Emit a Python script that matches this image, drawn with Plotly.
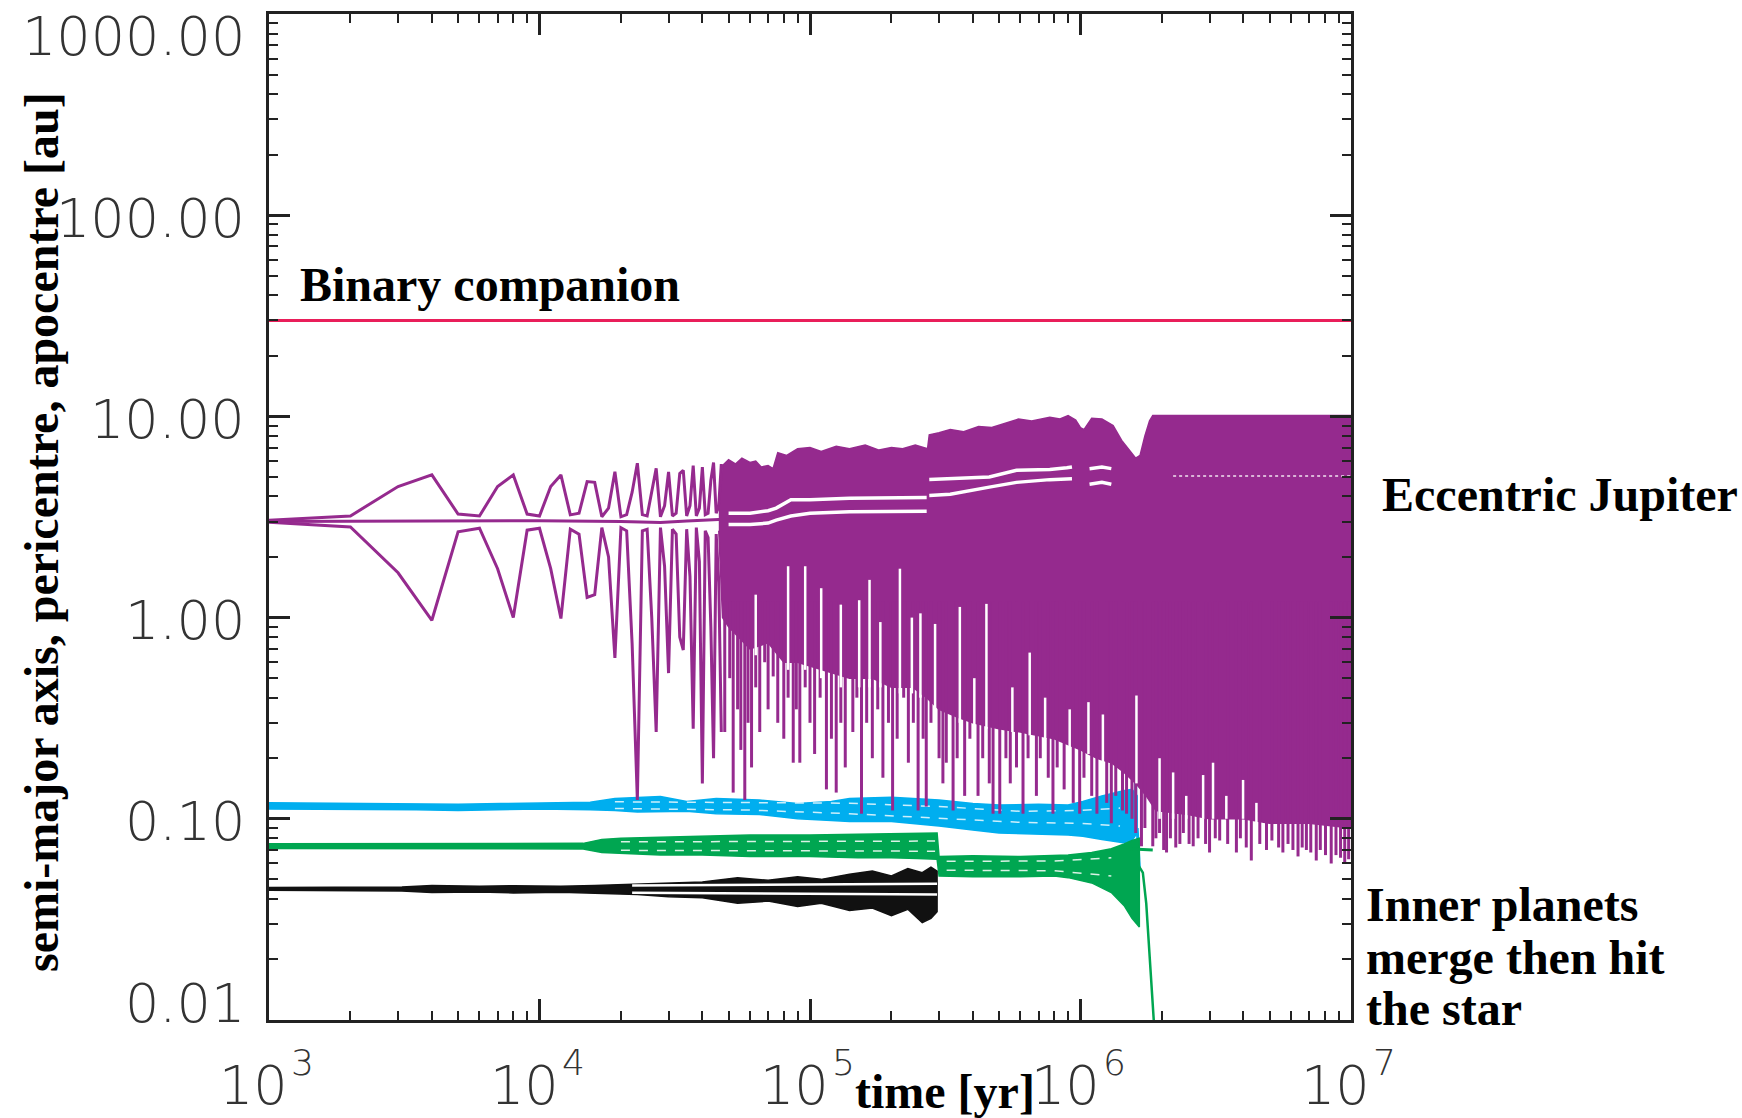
import math
import plotly.graph_objects as go

# ---------------- axis ticks ----------------
x_tick_vals = [1e3, 1e4, 1e5, 1e6, 1e7]
x_tick_base = ["10", "10", "10", "10", "10"]
x_tick_exp = ["3", "4", "5", "6", "7"]
y_tick_vals = [0.01, 0.1, 1.0, 10.0, 100.0, 1000.0]
y_tick_text = ["0.01", "0.10", "1.00", "10.00", "100.00", "1000.00"]

# ---------------- binary companion ----------------
comp_t = [1e3, 1e7]
comp_a = [30.0, 30.0]

# ---------------- eccentric Jupiter: early samples (every kyr) ----------------
jup_t_kyr = [1, 2, 3, 4, 5, 6, 7, 8, 9, 10, 11, 12, 13, 14, 15, 16, 17, 18, 19, 20,
             21, 22, 23, 24, 25, 26, 27, 28, 29, 30, 31, 32, 33, 34, 35, 36, 37, 38, 39, 40,
             41, 42, 43, 44, 45, 46, 47]
jup_apo = [3.05, 3.2, 4.48, 5.12, 3.27, 3.2, 4.48, 5.12, 3.27, 3.2, 4.48, 5.12, 3.24, 3.3, 4.74, 4.7,
           3.17, 3.5, 5.31, 3.17, 3.25, 4.2, 5.85, 3.25, 3.2, 4.3, 5.52, 3.17, 3.6, 5.3,
           3.2, 3.3, 5.2, 5.4, 3.2, 3.6, 5.7, 3.2, 3.5, 5.6, 3.25, 3.3, 4.8, 5.9, 3.3, 3.6, 5.8]
jup_peri = [2.98, 2.82, 1.67, 0.97, 2.67, 2.78, 1.75, 1.0, 2.72, 2.78, 1.75, 0.99, 2.75, 2.6, 1.26, 1.3,
            2.8, 2.0, 0.63, 2.8, 2.7, 0.74, 0.124, 2.7, 2.75, 1.0, 0.27, 2.8, 1.8, 0.53,
            2.75, 2.6, 0.8, 0.69, 2.75, 1.6, 0.28, 2.8, 1.9, 0.15, 2.7, 2.5, 0.9, 0.2, 2.6, 1.5, 0.27]
jup_a_t = [1e3, 1e4, 2e4, 2.8e4, 3.5e4, 4.2e4, 4.8e4]
jup_a = [3.0, 3.03, 3.0, 2.97, 3.02, 3.06, 3.08]

# ---------------- eccentric Jupiter: dense band ----------------
jup_top_t = [4.6e4, 4.75e4, 5.0e4, 5.3e4, 5.6e4, 6.0e4, 6.3e4, 6.6e4, 7.0e4, 7.3e4, 7.6e4, 8.2e4,
             9.0e4, 1.0e5, 1.1e5, 1.25e5, 1.4e5, 1.6e5, 1.8e5, 2.0e5, 2.2e5, 2.45e5, 2.72e5, 2.76e5,
             3.0e5, 3.3e5, 3.7e5, 4.2e5, 4.7e5, 5.2e5, 5.9e5, 6.6e5, 7.7e5, 8.4e5, 9.0e5, 9.6e5,
             1.0e6, 1.03e6, 1.1e6, 1.2e6, 1.32e6, 1.42e6, 1.52e6, 1.6e6, 1.66e6, 1.73e6, 1.8e6,
             1.85e6, 1e7]
jup_top = [3.4, 5.7, 6.1, 5.8, 6.2, 5.9, 6.0, 5.6, 5.7, 5.5, 6.6, 6.4,
           6.9, 7.0, 6.7, 7.1, 6.9, 7.2, 6.8, 7.0, 6.9, 7.2, 6.9, 8.1,
           8.3, 8.6, 8.4, 8.9, 8.8, 9.2, 9.7, 9.5, 9.9, 9.7, 10.1, 9.6,
           8.8, 8.6, 9.8, 9.7, 9.0, 7.6, 6.8, 6.2, 6.4, 8.0, 9.5,
           10.1, 10.1]
# lower edge of the solid part of the band
jup_base_t = [4.6e4, 4.75e4, 5.0e4, 6.0e4, 7.0e4, 8.0e4, 9.0e4, 1.1e5, 1.4e5, 1.7e5, 2.0e5, 2.4e5,
              2.7e5, 3.0e5, 3.5e5, 4.0e5, 5.0e5, 6.0e5, 8.0e5, 1.0e6, 1.15e6, 1.3e6, 1.45e6, 1.6e6,
              1.75e6, 1.9e6, 2.5e6, 3.0e6, 4.0e6, 5.0e6, 7.0e6, 1e7]
jup_base = [2.7, 1.0, 0.9, 0.7, 0.75, 0.6, 0.6, 0.55, 0.5, 0.5, 0.45, 0.45,
            0.4, 0.35, 0.32, 0.3, 0.28, 0.27, 0.25, 0.22, 0.2, 0.19, 0.17, 0.15,
            0.13, 0.11, 0.105, 0.1, 0.1, 0.095, 0.095, 0.09]
# deep pericentre spikes below the solid band
jup_spike_t = [4.84e4, 5.05e4, 5.2e4, 5.4e4, 5.55e4, 5.74e4, 5.9e4, 6.08e4, 6.3e4, 6.52e4, 6.8e4, 7.0e4,
               7.31e4, 7.6e4, 8.0e4, 8.3e4, 8.67e4, 8.9e4, 9.17e4, 9.6e4, 1.0e5, 1.04e5, 1.09e5,
               1.15e5, 1.2e5, 1.25e5, 1.3e5, 1.35e5, 1.44e5, 1.49e5, 1.55e5, 1.62e5, 1.7e5, 1.78e5,
               1.86e5, 1.95e5, 2.02e5, 2.1e5, 2.22e5, 2.31e5, 2.41e5, 2.51e5, 2.62e5, 2.69e5, 2.8e5,
               3.0e5, 3.1e5, 3.19e5, 3.38e5, 3.5e5, 3.73e5, 3.9e5, 4.18e5, 4.35e5, 4.6e5, 4.75e5,
               5.03e5, 5.3e5, 5.5e5, 5.8e5, 6.13e5, 6.4e5, 6.87e5, 7.1e5, 7.6e5, 7.91e5, 8.2e5,
               8.7e5, 9.4e5, 9.93e5, 1.03e6, 1.1e6, 1.15e6, 1.25e6, 1.30e6, 1.35e6, 1.43e6, 1.48e6,
               1.55e6, 1.6e6, 1.68e6, 1.73e6, 1.85e6, 1.9e6, 1.96e6, 2.03e6, 2.08e6, 2.15e6, 2.25e6,
               2.33e6, 2.4e6, 2.52e6, 2.61e6, 2.72e6, 2.9e6, 3.0e6, 3.15e6, 3.27e6, 3.5e6, 3.77e6,
               3.9e6, 4.1e6, 4.28e6, 4.6e6, 4.87e6, 5.1e6, 5.4e6, 5.6e6, 5.85e6, 6.1e6, 6.37e6,
               6.6e6, 6.84e6, 7.1e6, 7.44e6, 7.7e6, 8.05e6, 8.45e6, 8.8e6, 9.15e6, 9.48e6, 9.8e6]
jup_spike = [0.27, 0.5, 0.135, 0.35, 0.22, 0.124, 0.3, 0.18, 0.45, 0.27, 0.6, 0.35,
             0.51, 0.3, 0.25, 0.4, 0.19, 0.35, 0.19, 0.45, 0.3, 0.21, 0.4,
             0.14, 0.25, 0.135, 0.3, 0.18, 0.27, 0.4, 0.106, 0.3, 0.2, 0.35,
             0.16, 0.3, 0.11, 0.25, 0.4, 0.19, 0.3, 0.11, 0.25, 0.115, 0.3,
             0.2, 0.15, 0.19, 0.11, 0.2, 0.13, 0.25, 0.13, 0.2, 0.15, 0.106,
             0.106, 0.2, 0.15, 0.18, 0.106, 0.2, 0.13, 0.2, 0.16, 0.106, 0.18,
             0.14, 0.12, 0.106, 0.16, 0.13, 0.106, 0.12, 0.095, 0.13, 0.11, 0.106,
             0.1, 0.085, 0.073, 0.09, 0.073, 0.08, 0.085, 0.07, 0.068, 0.08, 0.072,
             0.075, 0.085, 0.075, 0.073, 0.08, 0.075, 0.068, 0.08, 0.078, 0.075, 0.068,
             0.08, 0.072, 0.062, 0.075, 0.07, 0.078, 0.072, 0.068, 0.075, 0.07, 0.065,
             0.072, 0.07, 0.068, 0.062, 0.07, 0.066, 0.06, 0.066, 0.064, 0.06, 0.063]
jup_spike_top = 1.2
# narrow white notches reaching up into the band
jup_notch_t = [6.3e4, 8.3e4, 9.6e4, 1.1e5, 1.3e5, 1.52e5, 1.66e5, 1.82e5, 2.15e5, 2.38e5, 2.56e5,
               2.9e5, 3.58e5, 4.05e5, 4.49e5, 5.6e5, 6.49e5, 7.4e5, 9.12e5, 1.07e6, 1.21e6, 1.61e6,
               1.96e6, 2.2e6, 2.46e6, 2.84e6, 3.09e6, 3.46e6, 3.99e6, 4.47e6]
jup_notch_lo = [0.65, 0.55, 0.55, 0.5, 0.45, 0.45, 0.45, 0.45, 0.42, 0.42, 0.4,
                0.33, 0.3, 0.29, 0.28, 0.27, 0.26, 0.25, 0.22, 0.21, 0.19, 0.15,
                0.1, 0.1, 0.1, 0.1, 0.1, 0.1, 0.1, 0.095]
jup_notch_hi = [1.3, 1.8, 1.8, 1.4, 1.16, 1.22, 1.54, 0.95, 1.75, 1.0, 1.05,
                0.93, 1.13, 0.5, 1.17, 0.45, 0.67, 0.4, 0.35, 0.38, 0.33, 0.41,
                0.2, 0.17, 0.13, 0.165, 0.19, 0.13, 0.156, 0.12]
# white gaps either side of the semi-major axis inside the band
jup_gap_t = [5.0e4, 6.0e4, 7.0e4, 7.5e4, 8.5e4, 1.0e5, 1.4e5, 2.0e5, 2.7e5, None,
             2.76e5, 3.3e5, 4.6e5, 5.8e5, 7.7e5, 8.9e5, 9.3e5, None, 1.08e6, 1.2e6, 1.3e6]
jup_gap_hi = [3.3, 3.3, 3.4, 3.5, 3.85, 3.85, 3.92, 3.95, 3.95, None,
              4.86, 4.9, 5.0, 5.4, 5.45, 5.55, 5.6, None, 5.5, 5.6, 5.5]
jup_gap_lo = [2.9, 2.9, 2.95, 3.05, 3.2, 3.3, 3.36, 3.38, 3.38, None,
              4.05, 4.1, 4.45, 4.7, 4.85, 4.9, 4.9, None, 4.6, 4.7, 4.6]
jup_late_a_t = [2.2e6, 1e7]
jup_late_a = [5.05, 5.05]

# ---------------- inner planets ----------------
cyan_t = [1e3, 3.5e3, 5e3, 7.2e3, 1.0e4, 1.54e4, 1.9e4, 2.3e4, 2.8e4, 3.5e4, 4.5e4, 6.5e4, 9e4, 1.2e5,
          1.4e5, 2.0e5, 3.0e5, 4.0e5, 5.0e5, 7.0e5, 9.0e5, 1.02e6, 1.2e6, 1.44e6, 1.55e6, 1.62e6]
cyan_hi = [0.120, 0.119, 0.118, 0.119, 0.120, 0.121, 0.126, 0.127, 0.129, 0.122, 0.126, 0.124, 0.119,
           0.122, 0.126, 0.128, 0.124, 0.119, 0.117, 0.118, 0.117, 0.122, 0.13, 0.138, 0.14, 0.13]
cyan_lo = [0.112, 0.111, 0.110, 0.111, 0.112, 0.111, 0.110, 0.108, 0.1085, 0.109, 0.106, 0.105, 0.100,
           0.098, 0.097, 0.097, 0.092, 0.088, 0.085, 0.084, 0.083, 0.082, 0.079, 0.076, 0.078, 0.085]
cyan_gap_t = [1.9e4, 6e4, 1.4e5, 3e5, 6e5, 1.0e6, 1.4e6]
cyan_gap_hi = [0.1215, 0.1205, 0.1195, 0.115, 0.109, 0.11, 0.113]
cyan_gap_lo = [0.1125, 0.1105, 0.106, 0.101, 0.096, 0.095, 0.092]
cyan_end_t = [1.6e6, 1.6e6, None, 1.62e6, 1.65e6]
cyan_end = [0.085, 0.175, None, 0.09, 0.057]

green_t = [1e3, 1.45e4, 1.7e4, 2.0e4, 2.8e4, 4e4, 6e4, 1e5, 1.5e5, 2.0e5, 2.5e5, 2.95e5, 3.0e5, 4e5,
           6e5, 8e5, 9e5, 1.1e6, 1.3e6, 1.45e6, 1.55e6, 1.65e6]
green_hi = [0.0752, 0.0755, 0.079, 0.080, 0.081, 0.082, 0.083, 0.083, 0.084, 0.084, 0.085, 0.085,
            0.065, 0.0655, 0.065, 0.0655, 0.066, 0.068, 0.071, 0.075, 0.078, 0.080]
green_lo = [0.0712, 0.0708, 0.068, 0.067, 0.066, 0.066, 0.065, 0.065, 0.064, 0.064, 0.0635, 0.063,
            0.052, 0.0515, 0.0515, 0.052, 0.051, 0.048, 0.043, 0.037, 0.032, 0.029]
green_gap_t = [2.0e4, 1e5, 2.9e5, None, 3.2e5, 8e5, 1.3e6]
green_gap_hi = [0.0768, 0.0772, 0.0775, None, 0.0615, 0.0617, 0.064]
green_gap_lo = [0.0697, 0.0693, 0.069, None, 0.0555, 0.0552, 0.052]
green_tail_t = [1.5e6, 1.85e6]
green_tail = [0.071, 0.070]
green_fall_t = [1.62e6, 1.7e6, 1.75e6, 1.8e6, 1.84e6, 1.87e6]
green_fall = [0.06, 0.054, 0.038, 0.021, 0.012, 0.0095]

black_t = [1e3, 3.1e3, 4e3, 6e3, 8e3, 1.2e4, 1.6e4, 2.3e4, 3e4, 4e4, 5.4e4, 7e4, 9e4, 1.1e5, 1.4e5,
           1.7e5, 2.0e5, 2.3e5, 2.6e5, 2.8e5, 2.95e5]
black_hi = [0.0455, 0.0458, 0.0466, 0.0462, 0.0465, 0.0462, 0.0466, 0.0475, 0.048, 0.0485, 0.051,
            0.0495, 0.0515, 0.050, 0.053, 0.055, 0.052, 0.0566, 0.054, 0.0575, 0.055]
black_lo = [0.0441, 0.0438, 0.043, 0.0433, 0.0428, 0.0432, 0.0428, 0.042, 0.041, 0.0405, 0.038,
            0.039, 0.0367, 0.038, 0.035, 0.036, 0.033, 0.0355, 0.0305, 0.032, 0.0345]
black_gap_t = [2.2e4, 5e4, 1e5, 2e5, 2.95e5]
black_gap_hi = [0.0466, 0.0469, 0.0472, 0.0474, 0.0475]
black_gap_lo = [0.0429, 0.0426, 0.0423, 0.0421, 0.0421]

# ---------------- styles ----------------
PURPLE = "#952a8e"
RED = "#e91e5a"
CYAN = "#00aeef"
GREEN = "#00a651"
BLACK = "#111111"
AXIS = "#222222"
TICKFONT = dict(family="DejaVu Sans", size=54, color="#333333", weight=200)
SUPFONT = dict(family="DejaVu Sans", size=36, color="#333333", weight=200)
LABELFONT = dict(family="Liberation Serif", size=48, color="black", weight="bold")

fig = go.Figure()


def band(t, hi, lo, color):
    fig.add_trace(go.Scatter(x=list(t) + list(t)[::-1], y=list(hi) + list(lo)[::-1],
                             fill="toself", fillcolor=color, mode="lines",
                             line=dict(color=color, width=1.5), hoverinfo="skip"))


def line(t, v, color, width, dash="solid"):
    fig.add_trace(go.Scatter(x=t, y=v, mode="lines", line=dict(color=color, width=width, dash=dash),
                             hoverinfo="skip", connectgaps=False))


def verticals(t, lo, hi, color, width):
    xs, ys = [], []
    for i, ti in enumerate(t):
        top = hi[i] if isinstance(hi, list) else hi
        xs += [ti, ti, None]
        ys += [lo[i], top, None]
    line(xs, ys, color, width)


# binary companion
line(comp_t, comp_a, RED, 3)

# inner planets
band(cyan_t, cyan_hi, cyan_lo, CYAN)
line(cyan_gap_t, cyan_gap_hi, "rgba(255,255,255,0.8)", 1.5, "dash")
line(cyan_gap_t, cyan_gap_lo, "rgba(255,255,255,0.8)", 1.5, "dash")
line(cyan_end_t, cyan_end, CYAN, 3)
band(green_t, green_hi, green_lo, GREEN)
line(green_gap_t, green_gap_hi, "rgba(255,255,255,0.85)", 1.5, "dash")
line(green_gap_t, green_gap_lo, "rgba(255,255,255,0.85)", 1.5, "dash")
line(green_tail_t, green_tail, GREEN, 3)
line(green_fall_t, green_fall, GREEN, 2.5)
band(black_t, black_hi, black_lo, BLACK)
line(black_gap_t, black_gap_hi, "white", 2.5)
line(black_gap_t, black_gap_lo, "white", 2.5)

# Jupiter
jt = [k * 1000 for k in jup_t_kyr]
line(jt, jup_apo, PURPLE, 3)
line(jt, jup_peri, PURPLE, 3)
line(jup_a_t, jup_a, PURPLE, 3)
fig.add_trace(go.Scatter(x=jup_top_t + jup_base_t[::-1], y=jup_top + jup_base[::-1],
                         fill="toself", fillcolor=PURPLE, mode="lines",
                         line=dict(color=PURPLE, width=1.5), hoverinfo="skip"))
verticals(jup_spike_t, jup_spike, jup_spike_top, PURPLE, 3)
verticals(jup_notch_t, jup_notch_lo, jup_notch_hi, "white", 2.5)
line(jup_gap_t, jup_gap_hi, "white", 3.5)
line(jup_gap_t, jup_gap_lo, "white", 3.5)
line(jup_late_a_t, jup_late_a, "rgba(255,255,255,0.65)", 2, "dot")

# ---------------- axes ----------------
x_minor = [m * 10 ** e for e in range(3, 7) for m in range(2, 10)]
y_minor = [m * 10.0 ** e for e in range(-2, 3) for m in range(2, 10)]

fig.update_xaxes(type="log", range=[3, 7], tickvals=x_tick_vals, showticklabels=False,
                 ticks="inside", ticklen=21, tickwidth=2.5, tickcolor=AXIS,
                 showline=True, linewidth=3, linecolor=AXIS, mirror="ticks",
                 showgrid=False, zeroline=False, automargin=False,
                 minor=dict(tickvals=x_minor, ticks="inside", ticklen=9, tickwidth=2,
                            tickcolor=AXIS, showgrid=False))
fig.update_yaxes(type="log", range=[-2, 3], tickvals=y_tick_vals, showticklabels=False,
                 ticks="inside", ticklen=21, tickwidth=2.5, tickcolor=AXIS,
                 showline=True, linewidth=3, linecolor=AXIS, mirror="ticks",
                 showgrid=False, zeroline=False, automargin=False,
                 minor=dict(tickvals=y_minor, ticks="inside", ticklen=9, tickwidth=2,
                            tickcolor=AXIS, showgrid=False))

annotations = []
# y tick labels
for v, txt in zip(y_tick_vals, y_tick_text):
    if v == max(y_tick_vals):
        ya, ys = "top", 11
    elif v == min(y_tick_vals):
        ya, ys = "bottom", -17
    else:
        ya, ys = "middle", -3
    annotations.append(dict(x=-0.0203, xref="paper", xanchor="right", y=math.log10(v), yref="y",
                            yanchor=ya, yshift=ys, text=txt, showarrow=False, font=TICKFONT))
# x tick labels: "10" with a raised exponent
for v, b, e in zip(x_tick_vals, x_tick_base, x_tick_exp):
    annotations.append(dict(x=math.log10(v), xref="x", xanchor="right", xshift=21, y=0, yref="paper",
                            yanchor="middle", yshift=-65, text=b, showarrow=False, font=TICKFONT))
    annotations.append(dict(x=math.log10(v), xref="x", xanchor="left", xshift=20, y=0, yref="paper",
                            yanchor="middle", yshift=-42, text=e, showarrow=False, font=SUPFONT))

annotations += [
    dict(x=-0.2098, y=0.4851, xref="paper", yref="paper", text="semi-major axis, pericentre, apocentre [au]",
         textangle=-90, showarrow=False, font=LABELFONT, xanchor="center", yanchor="middle"),
    dict(x=0.6248, y=-0.0706, xref="paper", yref="paper", text="time [yr]", showarrow=False,
         font=LABELFONT, xanchor="center", yanchor="middle"),
    dict(x=0.0268, y=0.7316, xref="paper", yref="paper", text="Binary companion", showarrow=False,
         font=LABELFONT, xanchor="left", yanchor="middle"),
    dict(x=1.0268, y=0.5219, xref="paper", yref="paper", text="Eccentric Jupiter", showarrow=False,
         font=LABELFONT, xanchor="left", yanchor="middle"),
    dict(x=1.0120, y=0.1153, xref="paper", yref="paper", text="Inner planets", showarrow=False,
         font=LABELFONT, xanchor="left", yanchor="middle"),
    dict(x=1.0120, y=0.0626, xref="paper", yref="paper", text="merge then hit", showarrow=False,
         font=LABELFONT, xanchor="left", yanchor="middle"),
    dict(x=1.0120, y=0.0119, xref="paper", yref="paper", text="the star", showarrow=False,
         font=LABELFONT, xanchor="left", yanchor="middle"),
]

fig.update_layout(width=1742, height=1118, margin=dict(l=269, r=391, t=14, b=98, pad=0),
                  plot_bgcolor="white", paper_bgcolor="white", showlegend=False,
                  annotations=annotations)

fig.write_html("out.html")
